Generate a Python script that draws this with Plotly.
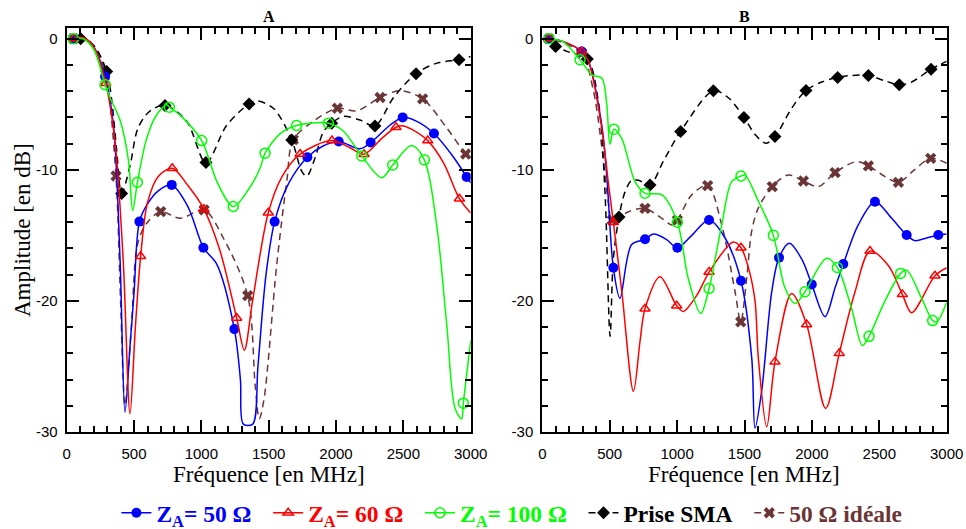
import plotly.graph_objects as go

# ---------------- Panel A data (frequency MHz, amplitude dB) ----------------
a50_f = [0, 50, 120, 200, 285, 347, 396, 433, 470, 500, 540, 600, 680, 780, 900, 1015, 1114, 1245, 1290, 1312, 1381, 1420, 1480, 1544, 1650, 1787, 1900, 2020, 2177, 2257, 2400, 2495, 2600, 2727, 2870, 2970, 3000]
a50_db = [0, 0, 0.1, -0.6, -2.88, -6.6, -16.8, -28.5, -23.5, -19.4, -13.95, -12.6, -11.6, -11.15, -12.8, -15.94, -17.2, -22.15, -26, -29.4, -29.4, -25, -18, -13.95, -11, -9.04, -8.2, -7.84, -8.4, -7.92, -6.6, -6.0, -6.3, -7.23, -9.0, -10.54, -11.0]
a50_mk = [50, 285, 540, 780, 1015, 1245, 1544, 1787, 2020, 2257, 2495, 2727, 2970]

a60_f = [0, 50, 120, 200, 290, 360, 420, 470, 510, 549, 600, 680, 784, 900, 1019, 1139, 1262, 1319, 1380, 1497, 1600, 1733, 1970, 2100, 2208, 2340, 2445, 2500, 2560, 2681, 2800, 2916, 3000]
a60_db = [0, 0, 0.1, -0.6, -3.4, -8, -17, -28.6, -22, -16.6, -12.5, -10.5, -9.88, -11.2, -13.0, -16.2, -21.3, -23.76, -20, -13.27, -10.5, -8.8, -7.77, -8.3, -8.81, -7.6, -6.75, -6.65, -6.9, -7.77, -9.5, -12.2, -13.3]
a60_mk = [50, 290, 549, 784, 1019, 1262, 1497, 1733, 1970, 2208, 2445, 2681, 2916]

a100_f = [0, 50, 120, 200, 285, 322, 396, 458, 490, 525, 594, 668, 743, 762, 850, 1002, 1120, 1237, 1350, 1435, 1473, 1590, 1707, 1943, 2050, 2191, 2339, 2421, 2561, 2656, 2747, 2822, 2884, 2933, 2945, 3000]
a100_db = [0, 0, 0, -0.8, -3.5, -4.5, -6.2, -9.24, -13.1, -10.95, -7.6, -5.8, -5.04, -5.22, -5.9, -7.77, -11, -12.8, -11.5, -9.9, -8.73, -7.2, -6.62, -6.44, -7, -8.94, -10.6, -9.63, -8.15, -9.24, -14.2, -21.8, -28.2, -29, -27.8, -23]
a100_mk = [50, 285, 525, 762, 1002, 1237, 1473, 1707, 1943, 2191, 2421, 2656, 2945]

asma_f = [0, 104, 200, 297, 334, 371, 408, 470, 530, 620, 730, 891, 1034, 1188, 1354, 1410, 1534, 1671, 1745, 1782, 1844, 1906, 1968, 2054, 2178, 2289, 2426, 2594, 2748, 2913, 3000]
asma_db = [0, 0, -0.5, -2.5, -4.66, -8.5, -11.8, -9.7, -6.8, -5.5, -5.09, -6.3, -9.45, -6.6, -4.97, -4.74, -5.3, -7.72, -10.1, -10.5, -9.1, -7.1, -6.44, -5.93, -6.2, -6.65, -4.5, -2.67, -1.86, -1.6, -1.35]
asma_mk = [104, 297, 408, 730, 1034, 1354, 1671, 1968, 2289, 2594, 2913]

aid_f = [0, 50, 150, 250, 300, 366, 400, 433, 480, 530, 600, 698, 842, 1020, 1163, 1344, 1400, 1430, 1465, 1559, 1634, 1683, 1832, 2010, 2153, 2327, 2475, 2643, 2822, 2963, 3000]
aid_db = [0, 0, 0, -1.5, -3.3, -10.47, -20, -27.96, -22, -15.5, -14, -13.19, -13.7, -13.06, -15.2, -19.6, -26.5, -29.0, -27.5, -17.3, -10.9, -7.7, -6.3, -5.3, -5.5, -4.48, -3.97, -4.58, -6.8, -8.79, -9.1]
aid_mk = [50, 366, 698, 1020, 1344, 1683, 2010, 2327, 2643, 2963]

# ---------------- Panel B data ----------------
b50_f = [0, 45, 150, 292, 342, 441, 478, 527, 576, 663, 762, 824, 920, 1002, 1109, 1237, 1356, 1474, 1554, 1578, 1627, 1702, 1756, 1833, 1924, 1999, 2097, 2172, 2233, 2344, 2468, 2592, 2703, 2765, 2850, 2938, 3000]
b50_db = [0, 0, -0.2, -0.97, -1.7, -6.6, -10.4, -17.47, -19.8, -15.7, -15.3, -14.9, -15.3, -15.94, -15.0, -13.83, -15.2, -18.46, -24.4, -29.7, -26.9, -19.3, -16.7, -15.6, -16.8, -18.74, -21.2, -19, -17.19, -14.2, -12.43, -13.7, -14.97, -15.4, -15.2, -14.97, -14.9]
b50_mk = [45, 292, 527, 762, 1002, 1237, 1474, 1756, 1999, 2233, 2468, 2703, 2938]

b60_f = [0, 50, 150, 292, 342, 441, 490, 527, 590, 676, 726, 762, 873, 997, 1046, 1150, 1237, 1417, 1474, 1530, 1578, 1603, 1665, 1726, 1850, 1961, 2102, 2203, 2320, 2431, 2567, 2671, 2740, 2913, 3000]
b60_db = [0, 0, -0.2, -0.97, -1.7, -6.8, -11, -14, -19.3, -26.9, -23, -20.6, -18.15, -20.37, -20.8, -19.5, -17.8, -15.5, -15.94, -17.5, -20, -24.4, -29.6, -24.65, -19.43, -21.8, -28.2, -24.0, -19.3, -16.2, -17.3, -19.5, -20.9, -18.08, -17.47]
b60_mk = [50, 292, 527, 762, 997, 1237, 1474, 1726, 1961, 2203, 2431, 2671, 2913]

b100_f = [0, 50, 150, 280, 367, 441, 478, 502, 532, 589, 688, 762, 886, 1002, 1083, 1175, 1237, 1331, 1405, 1474, 1504, 1603, 1714, 1800, 1875, 1949, 2109, 2189, 2295, 2374, 2424, 2542, 2658, 2703, 2814, 2896, 2926, 3000]
b100_db = [0, 0, -0.2, -1.6, -2.75, -3.0, -5.0, -8.05, -6.9, -7.6, -10.9, -11.79, -11.9, -14.0, -18.3, -20.96, -19.05, -14.2, -10.9, -10.47, -10.4, -12.4, -15.0, -19.0, -20.2, -19.3, -16.75, -17.45, -20.6, -23.4, -22.7, -20.0, -17.9, -17.65, -19.8, -21.5, -21.6, -20.1]
b100_mk = [50, 280, 532, 762, 1002, 1237, 1474, 1714, 1949, 2189, 2424, 2658, 2896]

bsma_f = [0, 99, 193, 334, 416, 465, 503, 527, 569, 613, 663, 713, 799, 900, 1026, 1269, 1380, 1496, 1578, 1657, 1726, 1850, 1956, 2073, 2191, 2295, 2419, 2540, 2648, 2740, 2884, 3000]
bsma_db = [0, -0.6, -1.0, -1.55, -4.8, -11.7, -22.7, -16.8, -13.6, -11.7, -10.8, -10.8, -11.15, -9.3, -7.08, -3.97, -4.5, -6.0, -7.3, -7.97, -7.46, -5.3, -3.95, -3.3, -2.95, -2.8, -2.8, -3.2, -3.51, -3.3, -2.32, -1.73]
bsma_mk = [99, 334, 569, 799, 1026, 1269, 1496, 1726, 1956, 2191, 2419, 2648, 2884]

bid_f = [0, 50, 150, 292, 380, 450, 490, 519, 639, 762, 886, 960, 1002, 1109, 1227, 1331, 1430, 1472, 1516, 1553, 1603, 1706, 1825, 1937, 2048, 2172, 2332, 2419, 2540, 2642, 2760, 2881, 3000]
bid_db = [0, 0, -0.3, -1.1, -4, -9, -12.5, -13.83, -13.2, -12.94, -13.7, -14.2, -13.83, -11.9, -11.2, -14.2, -19.3, -21.6, -18.3, -14.7, -12.9, -11.28, -10.39, -10.85, -11.28, -10.21, -9.37, -9.7, -10.5, -10.95, -10.0, -9.12, -9.5]
bid_mk = [50, 292, 519, 762, 1002, 1227, 1472, 1706, 1937, 2172, 2419, 2642, 2881]

# tick labels and legend labels
x_ticks = [0, 500, 1000, 1500, 2000, 2500, 3000]
x_ticktext = ["0", "500", "1000", "1500", "2000", "2500", "3000"]
y_ticks = [0, -10, -20, -30]
y_ticktext = ["0", "-10", "-20", "-30"]
names = ["Z<sub>A</sub>= 50 Ω", "Z<sub>A</sub>= 60 Ω", "Z<sub>A</sub>= 100 Ω", "Prise SMA", "50 Ω idéale"]

BLUE, RED, GREEN, BLACK, BROWN = "#0000ff", "#ff0000", "#00ff00", "#000000", "#6b3535"
DASH = "7px,5px"
styles = [
    dict(color=BLUE, dash="solid", symbol="circle", size=10, lw=0),
    dict(color=RED, dash="solid", symbol="triangle-up-open", size=9, lw=1.5),
    dict(color=GREEN, dash="solid", symbol="circle-open", size=10, lw=1.5),
    dict(color=BLACK, dash=DASH, symbol="diamond", size=10, lw=0),
    dict(color=BROWN, dash=DASH, symbol="x", size=10, lw=0),
]

panels = {
    "x": [(a50_f, a50_db, a50_mk), (a60_f, a60_db, a60_mk), (a100_f, a100_db, a100_mk),
          (asma_f, asma_db, asma_mk), (aid_f, aid_db, aid_mk)],
    "x2": [(b50_f, b50_db, b50_mk), (b60_f, b60_db, b60_mk), (b100_f, b100_db, b100_mk),
           (bsma_f, bsma_db, bsma_mk), (bid_f, bid_db, bid_mk)],
}

fig = go.Figure()
order = [4, 3, 0, 1, 2]
for xa, series in panels.items():
    ya = "y" if xa == "x" else "y2"
    for i in order:
        f, db, mk = series[i]
        st = styles[i]
        fig.add_trace(go.Scatter(x=f, y=db, mode="lines", xaxis=xa, yaxis=ya,
                                 line=dict(color=st["color"], width=1.5, dash=st["dash"],
                                           shape="spline", smoothing=0.9),
                                 showlegend=False, hoverinfo="skip"))
        my = [db[f.index(v)] for v in mk]
        fig.add_trace(go.Scatter(x=mk, y=my, mode="markers", xaxis=xa, yaxis=ya,
                                 marker=dict(symbol=st["symbol"], size=st["size"], color=st["color"],
                                             line=dict(color=st["color"], width=st["lw"])),
                                 showlegend=False))

for i, nm in enumerate(names):
    st = styles[i]
    fig.add_trace(go.Scatter(x=[None], y=[None], mode="lines+markers", xaxis="x", yaxis="y",
                             name=f'<span style="color:{st["color"]}">{nm}</span>&nbsp;&nbsp;',
                             line=dict(color=st["color"], width=1.5, dash=st["dash"]),
                             marker=dict(symbol=st["symbol"], size=st["size"], color=st["color"],
                                         line=dict(color=st["color"], width=st["lw"]))))

tickfont = dict(family="Liberation Sans", size=15, color="black")
def xax(domain, anchor):
    return dict(domain=domain, anchor=anchor, range=[0, 3000],
                tickmode="array", tickvals=x_ticks, ticktext=x_ticktext,
                ticks="inside", ticklen=12, tickwidth=1.5, tickcolor="black",
                minor=dict(tick0=0, dtick=100, ticks="inside", ticklen=6, tickwidth=1.5, tickcolor="black"),
                mirror="allticks", showline=True, linewidth=2, linecolor="black",
                showgrid=False, zeroline=False, tickfont=tickfont, ticklabelstandoff=7)
def yax(anchor):
    return dict(domain=[0, 1], anchor=anchor, range=[-30, 0.82],
                tickmode="array", tickvals=y_ticks, ticktext=y_ticktext,
                ticks="inside", ticklen=12, tickwidth=1.5, tickcolor="black",
                minor=dict(tick0=0, dtick=2, ticks="inside", ticklen=6, tickwidth=1.5, tickcolor="black"),
                mirror="allticks", showline=True, linewidth=2, linecolor="black",
                showgrid=False, zeroline=False, tickfont=tickfont, ticklabelstandoff=4)

serif = "Liberation Serif"
def ann(text, x, y, size, **kw):
    return dict(text=text, x=x, y=y, xref="paper", yref="paper", showarrow=False,
                xanchor="center", yanchor="middle", font=dict(family=serif, size=size, color="black"), **kw)

fig.update_layout(
    width=966, height=529,
    margin=dict(l=0, r=0, t=28, b=97, autoexpand=False),
    paper_bgcolor="white", plot_bgcolor="white",
    xaxis=xax([0.06905, 0.48727], "y"),
    yaxis=yax("x"),
    xaxis2=xax([0.56139, 0.98002], "y2"),
    yaxis2=yax("x2"),
    showlegend=True,
    legend=dict(orientation="h", x=0.1205, xanchor="left", y=-0.2005, yanchor="middle",
                font=dict(family=serif, size=23.5, weight="bold", color="black"),
                bgcolor="rgba(0,0,0,0)"),
    annotations=[
        ann("<b>A</b>", 0.2781, 1.0297, 16),
        ann("<b>B</b>", 0.7707, 1.0297, 16),
        ann("Amplitude [en dB]", 22/966, 0.5, 23, textangle=-90),
        ann("Fréquence [en MHz]", 0.2781, -0.104, 23),
        ann("Fréquence [en MHz]", 0.7707, -0.104, 23),
    ],
)

fig.write_html("out.html", config={"displayModeBar": False},
               post_script="document.body.style.margin='0px';document.body.style.overflow='hidden';")
